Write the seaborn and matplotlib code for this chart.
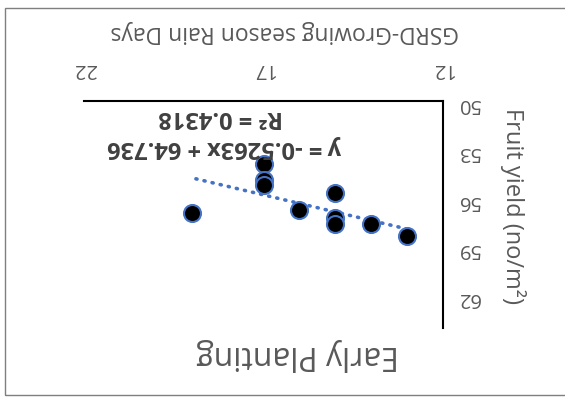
import numpy as np
import pandas as pd
import matplotlib.pyplot as plt
import seaborn as sns
from matplotlib.patches import Rectangle

# chart is shown rotated by 180 degrees, like the reference picture
rain_days = [19, 17, 17, 17, 16, 15, 15, 15, 14, 13]
fruit_yield = [56.9, 53.9, 54.85, 55.15, 56.7, 55.65, 57.2, 57.6, 57.6, 58.35]
slope = -0.5263
intercept = 64.736
r_squared = 0.4318
x_ticks = [12, 17, 22]
y_ticks = [50, 53, 56, 59, 62]

df = pd.DataFrame({'GSRD': rain_days, 'Yield': fruit_yield})

sns.set_style('white')
plt.rcParams['font.family'] = ['Open Sans', 'DejaVu Sans']

fig = plt.figure(figsize=(5.65, 3.98), dpi=100)
ax = fig.add_axes([0.149, 0.176, 0.635, 0.570])

# linear trendline from the equation, over the data range
trend_x = np.array([min(rain_days), max(rain_days)])
trend = pd.DataFrame({'GSRD': trend_x, 'Yield': slope * trend_x + intercept})
sns.lineplot(data=trend, x='GSRD', y='Yield', ax=ax, color='#4472C4',
             lw=2.6, linestyle=(0, (0.3, 2)), dash_capstyle='round', zorder=2)

sns.scatterplot(data=df, x='GSRD', y='Yield', ax=ax, s=150, color='black',
                edgecolor='#4472C4', linewidth=1.5, zorder=3)

ax.set_xlim(22, 12)
ax.set_ylim(64, 50)
ax.set_xticks(x_ticks)
ax.set_yticks(y_ticks)
ax.xaxis.tick_top()
ax.yaxis.tick_right()
ax.tick_params(axis='x', length=0, labelsize=14.5, labelcolor='#595959', pad=16)
ax.tick_params(axis='y', length=0, labelsize=14.5, labelcolor='#595959', pad=10)
for lbl in ax.get_xticklabels() + ax.get_yticklabels():
    lbl.set_rotation(180)
ax.set_xlabel('')
ax.set_ylabel('')

ax.spines['left'].set_visible(False)
ax.spines['bottom'].set_visible(False)
for side in ['top', 'right']:
    ax.spines[side].set_color('black')
    ax.spines[side].set_linewidth(1.5)

fig.text(285 / 565, 1 - 32 / 398, 'GSRD-Growing season Rain Days', rotation=180,
         ha='center', va='center', fontsize=16.5, color='#595959')
fig.text(513 / 565, 1 - 206 / 398, 'Fruit yield (no/m²)', rotation=-90,
         ha='center', va='center', fontsize=17, color='#595959')
fig.text(298 / 565, 1 - 355 / 398, 'Early Planting', rotation=180,
         ha='center', va='center', fontsize=23, color='#595959')

fig.text(225 / 565, 1 - 147 / 398, f'y = {slope}x + {intercept}', rotation=180,
         ha='center', va='center', fontsize=17, fontweight='bold', color='#404040')
fig.text(221 / 565, 1 - 117 / 398, f'R² = {r_squared}', rotation=180,
         ha='center', va='center', fontsize=17, fontweight='bold', color='#404040')

fig.add_artist(Rectangle((5 / 565, 3 / 398), 600 / 565, 387 / 398,
                         transform=fig.transFigure, fill=False,
                         edgecolor='#7f7f7f', lw=1))

fig.savefig('out.png', dpi=100)
